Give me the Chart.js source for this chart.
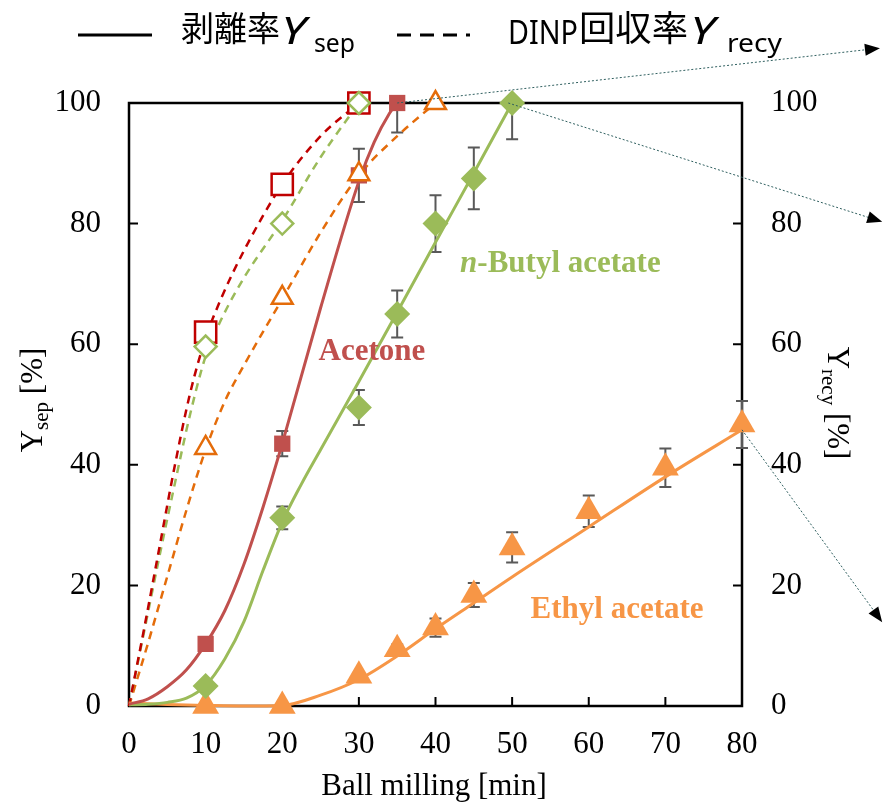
<!DOCTYPE html>
<html>
<head>
<meta charset="utf-8">
<script src="https://cdn.jsdelivr.net/npm/chart.js@4.4.1/dist/chart.umd.min.js"></script>
<style>
  html, body { margin: 0; padding: 0; background: #fff; }
  #wrap { width: 896px; height: 807px; position: relative; }
</style>
</head>
<body>
<div id="wrap"><canvas id="chart"></canvas></div>
<script>
// axis ticks
const xTicks = [0, 10, 20, 30, 40, 50, 60, 70, 80];
const yTicks = [0, 20, 40, 60, 80, 100];

// measured Ysep (filled markers) with error bars
const acetoneMin = [10, 20, 30, 35];
const acetoneSep = [10.3, 43.5, 88.0, 100];
const acetoneErr = [0, 2.1, 4.4, 4.9];
const butylMin = [10, 20, 30, 35, 40, 45, 50];
const butylSep = [3.3, 31.2, 49.5, 65.0, 80.0, 87.5, 100];
const butylErr = [0, 1.9, 2.9, 3.9, 4.7, 5.1, 6.0];
const ethylMin = [10, 20, 30, 35, 40, 45, 50, 60, 70, 80];
const ethylSep = [0, 0, 5.0, 9.4, 13.0, 18.4, 26.3, 32.3, 39.5, 46.7];
const ethylErr = [0, 0, 0.5, 0.8, 1.5, 2.0, 2.5, 2.6, 3.2, 3.9];

// measured Yrecy (open markers)
const acetoneRecMin = [10, 20, 30];
const acetoneRec = [62.0, 86.5, 100];
const butylRecMin = [10, 20, 30];
const butylRec = [59.6, 80.0, 100];
const ethylRecMin = [10, 20, 30, 40];
const ethylRec = [42.8, 67.7, 88.2, 100];

// fitted curves
const acetoneFitMin = [0, 2.5, 5, 7.5, 10, 12.5, 15, 17.5, 20, 25, 30, 32, 34, 35];
const acetoneFitSep = [0.3, 1.2, 3.2, 6.0, 10.3, 15.8, 23.5, 33, 43.5, 66, 87, 93.5, 98.3, 100];
const butylFitMin = [0, 2.5, 5, 7.5, 10, 12.5, 15, 17.5, 20, 22.5, 25, 30, 35, 40, 45, 50];
const butylFitSep = [0.2, 0.3, 0.6, 1.3, 3.4, 7.8, 14, 22.5, 30.5, 36.8, 42.5, 53.8, 65.3, 76.9, 88.4, 100];
const ethylFitMin = [0, 5, 10, 15, 20, 25, 30, 35, 40, 45, 50, 60, 70, 80];
const ethylFitSep = [0.5, 0.25, 0.1, 0, 0.1, 1.8, 4.4, 8.3, 12.8, 17.1, 21.4, 29.7, 38, 45.8];

const acetoneRecFitMin = [0, 2, 4, 6, 8, 10, 12, 15, 20, 25, 30];
const acetoneRecFit = [0, 13, 26.5, 40, 52, 61, 67.5, 75.5, 86.5, 94.5, 100];
const butylRecFitMin = [0, 2, 4, 6, 8, 10, 12, 15, 20, 25, 30];
const butylRecFit = [0, 12.5, 25, 37, 48.5, 58, 64, 71, 80.5, 91, 100];
const ethylRecFitMin = [0, 2.5, 5, 7.5, 10, 12.5, 15, 20, 25, 30, 35, 40];
const ethylRecFit = [0, 10.5, 21.5, 32.5, 42.5, 50.5, 56.5, 67.5, 78.5, 88, 94.5, 100];

const RED = '#C0504D', DRED = '#C00000', GREEN = '#9BBB59', ORANGE = '#F79646', DORANGE = '#E46C0A';
const SERIF = '"Liberation Serif", "Times New Roman", serif';
const JP = '"Noto Sans CJK JP", "Noto Sans", sans-serif';
const SANS = '"Noto Sans", "Noto Sans CJK JP", sans-serif';

function pts(xs, ys) {
    return xs.map((x, i) => ({ x: x, y: ys[i] }));
}

function fitLine(xs, ys, color, dashed, order) {
    return {
        data: pts(xs, ys), borderColor: color, borderWidth: dashed ? 2.5 : 3,
        borderDash: dashed ? [8, 6] : [], pointRadius: 0, showLine: true,
        cubicInterpolationMode: 'monotone', fill: false, order: order, clip: false
    };
}

function markers(xs, ys, style, radius, fillColor, edgeColor, edge, order) {
    return {
        data: pts(xs, ys), showLine: false, pointStyle: style, pointRadius: radius,
        pointBackgroundColor: fillColor, pointBorderColor: edgeColor, pointBorderWidth: edge,
        pointHoverRadius: radius, order: order, clip: false
    };
}

const errorSets = [
    [acetoneMin, acetoneSep, acetoneErr],
    [butylMin, butylSep, butylErr],
    [ethylMin, ethylSep, ethylErr]
];

function rich(ctx, parts, x, y, align) {
    let w = 0;
    parts.forEach(p => { ctx.font = p[1]; w += ctx.measureText(p[0]).width; });
    let cx = align === 'center' ? x - w / 2 : (align === 'right' ? x - w : x);
    ctx.textAlign = 'left';
    ctx.textBaseline = 'middle';
    parts.forEach(p => {
        ctx.font = p[1];
        ctx.fillText(p[0], cx, y + (p[2] || 0));
        cx += ctx.measureText(p[0]).width;
    });
}

// draw text squeezed/stretched to a given width
function fitText(ctx, text, font, x, y, width, baseline) {
    ctx.save();
    ctx.font = font;
    ctx.textAlign = 'left';
    ctx.textBaseline = baseline;
    const w = ctx.measureText(text).width;
    ctx.translate(x, y);
    ctx.scale(width / w, 1);
    ctx.fillText(text, 0, 0);
    ctx.restore();
}

const decor = {
    id: 'decor',
    beforeDatasetsDraw(chart) {
        const { ctx, chartArea: a, scales } = chart;
        ctx.save();
        // plot frame
        ctx.strokeStyle = '#000';
        ctx.lineWidth = 2.5;
        ctx.strokeRect(a.left, a.top, a.right - a.left, a.bottom - a.top);
        // inward tick marks
        ctx.lineWidth = 2;
        ctx.beginPath();
        xTicks.forEach(v => {
            const px = scales.x.getPixelForValue(v);
            ctx.moveTo(px, a.bottom); ctx.lineTo(px, a.bottom - 9);
        });
        yTicks.forEach(v => {
            const py = scales.y.getPixelForValue(v);
            ctx.moveTo(a.left, py); ctx.lineTo(a.left + 9, py);
            ctx.moveTo(a.right, py); ctx.lineTo(a.right - 9, py);
        });
        ctx.stroke();
        // error bars
        ctx.strokeStyle = '#595959';
        ctx.lineWidth = 2;
        ctx.beginPath();
        errorSets.forEach(s => {
            s[0].forEach((m, i) => {
                if (!s[2][i]) return;
                const px = scales.x.getPixelForValue(m);
                const top = scales.y.getPixelForValue(Math.min(100, s[1][i] + s[2][i]));
                const bot = scales.y.getPixelForValue(s[1][i] - s[2][i]);
                ctx.moveTo(px, top); ctx.lineTo(px, bot);
                ctx.moveTo(px - 6, top); ctx.lineTo(px + 6, top);
                ctx.moveTo(px - 6, bot); ctx.lineTo(px + 6, bot);
            });
        });
        ctx.stroke();
        ctx.restore();
    },
    afterDatasetsDraw(chart) {
        const { ctx, scales } = chart;
        const X = v => scales.x.getPixelForValue(v);
        const Y = v => scales.y.getPixelForValue(v);
        ctx.save();
        // dotted arrows pointing out of the plot
        const arrows = [[35, 100, 98, 109.1], [49.5, 100, 98.3, 80.3], [80, 45.8, 98.3, 13.9]];
        arrows.forEach(r => {
            const x0 = X(r[0]), y0 = Y(r[1]), x1 = X(r[2]), y1 = Y(r[3]);
            const ang = Math.atan2(y1 - y0, x1 - x0);
            ctx.strokeStyle = '#2F5F5F';
            ctx.lineWidth = 1;
            ctx.setLineDash([2, 2]);
            ctx.beginPath();
            ctx.moveTo(x0, y0);
            ctx.lineTo(x1 - 12 * Math.cos(ang), y1 - 12 * Math.sin(ang));
            ctx.stroke();
            ctx.setLineDash([]);
            ctx.fillStyle = '#000';
            ctx.beginPath();
            ctx.moveTo(x1, y1);
            ctx.lineTo(x1 - 15 * Math.cos(ang) + 6 * Math.sin(ang), y1 - 15 * Math.sin(ang) - 6 * Math.cos(ang));
            ctx.lineTo(x1 - 15 * Math.cos(ang) - 6 * Math.sin(ang), y1 - 15 * Math.sin(ang) + 6 * Math.cos(ang));
            ctx.closePath();
            ctx.fill();
        });

        // series labels
        ctx.fillStyle = RED;
        rich(ctx, [['Acetone', 'bold 31px ' + SERIF]], X(31.7), Y(58.7), 'center');
        ctx.fillStyle = GREEN;
        rich(ctx, [['n', 'italic bold 31px ' + SERIF], ['-Butyl acetate', 'bold 31px ' + SERIF]], X(56.3), Y(73.3), 'center');
        ctx.fillStyle = ORANGE;
        rich(ctx, [['Ethyl acetate', 'bold 31px ' + SERIF]], X(63.7), Y(16.0), 'center');

        // axis titles
        ctx.fillStyle = '#000';
        rich(ctx, [['Ball milling [min]', '31px ' + SERIF]], 434, 787, 'center');
        ctx.save();
        ctx.translate(34, 400);
        ctx.rotate(-Math.PI / 2);
        rich(ctx, [['Y', '31px ' + SERIF], ['sep', '21px ' + SERIF, 8], [' [%]', '31px ' + SERIF]], 0, 0, 'center');
        ctx.restore();
        ctx.save();
        ctx.translate(836, 403);
        ctx.rotate(Math.PI / 2);
        rich(ctx, [['Y', '31px ' + SERIF], ['recy', '21px ' + SERIF, 8], [' [%]', '31px ' + SERIF]], 0, 0, 'center');
        ctx.restore();

        // legend
        ctx.strokeStyle = '#000';
        ctx.lineWidth = 3;
        ctx.beginPath();
        ctx.moveTo(78, 35); ctx.lineTo(152, 35);
        ctx.stroke();
        ctx.setLineDash([14, 9]);
        ctx.beginPath();
        ctx.moveTo(397, 35); ctx.lineTo(470, 35);
        ctx.stroke();
        ctx.setLineDash([]);
        fitText(ctx, '剥離率', '34px ' + JP, 181, 28, 99, 'middle');
        fitText(ctx, 'Y', 'italic 39px ' + SANS, 281, 44, 25, 'alphabetic');
        fitText(ctx, 'sep', '25px ' + SANS, 314, 52, 41, 'alphabetic');
        fitText(ctx, 'DINP', '33px ' + SANS, 508, 44, 70, 'alphabetic');
        fitText(ctx, '回収率', '35px ' + JP, 579, 28, 109, 'middle');
        fitText(ctx, 'Y', 'italic 39px ' + SANS, 690, 44, 25, 'alphabetic');
        fitText(ctx, 'recy', '25px ' + SANS, 727, 52, 55, 'alphabetic');
        ctx.restore();
    }
};

const tickFont = { family: SERIF, size: 31 };

new Chart(document.getElementById('chart'), {
    type: 'line',
    data: {
        datasets: [
            fitLine(acetoneFitMin, acetoneFitSep, RED, false, 9),
            fitLine(butylFitMin, butylFitSep, GREEN, false, 9),
            fitLine(ethylFitMin, ethylFitSep, ORANGE, false, 9),
            fitLine(acetoneRecFitMin, acetoneRecFit, DRED, true, 9),
            fitLine(butylRecFitMin, butylRecFit, GREEN, true, 9),
            fitLine(ethylRecFitMin, ethylRecFit, DORANGE, true, 9),
            markers(acetoneMin, acetoneSep, 'rect', 11.5, RED, RED, 0, 5),
            markers(butylMin, butylSep, 'rectRot', 13, GREEN, GREEN, 0, 5),
            markers(ethylMin, ethylSep, 'triangle', 15.5, ORANGE, ORANGE, 0, 5),
            markers(acetoneRecMin, acetoneRec, 'rect', 15, '#fff', DRED, 2.5, 3),
            markers(butylRecMin, butylRec, 'rectRot', 11, '#fff', GREEN, 2.5, 2),
            markers(ethylRecMin, ethylRec, 'triangle', 12, '#fff', DORANGE, 2.5, 1)
        ]
    },
    options: {
        responsive: true,
        maintainAspectRatio: false,
        animation: false,
        events: [],
        layout: { padding: { top: 103, left: 0, right: 0, bottom: 0 } },
        plugins: { legend: { display: false }, tooltip: { enabled: false } },
        scales: {
            x: {
                type: 'linear', min: 0, max: 80,
                afterFit: s => { s.height = 101; },
                afterBuildTicks: s => { s.ticks = xTicks.map(v => ({ value: v })); },
                ticks: { font: tickFont, color: '#000', padding: 20 },
                grid: { display: false, drawTicks: false },
                border: { display: false }
            },
            y: {
                type: 'linear', position: 'left', min: 0, max: 100,
                afterFit: s => { s.width = 129; },
                afterBuildTicks: s => { s.ticks = yTicks.map(v => ({ value: v })); },
                ticks: { font: tickFont, color: '#000', padding: 28 },
                grid: { display: false, drawTicks: false },
                border: { display: false }
            },
            y2: {
                type: 'linear', position: 'right', min: 0, max: 100,
                afterFit: s => { s.width = 154; },
                afterBuildTicks: s => { s.ticks = yTicks.map(v => ({ value: v })); },
                ticks: { font: tickFont, color: '#000', padding: 29 },
                grid: { display: false, drawTicks: false },
                border: { display: false }
            }
        }
    },
    plugins: [decor]
});
</script>
</body>
</html>
